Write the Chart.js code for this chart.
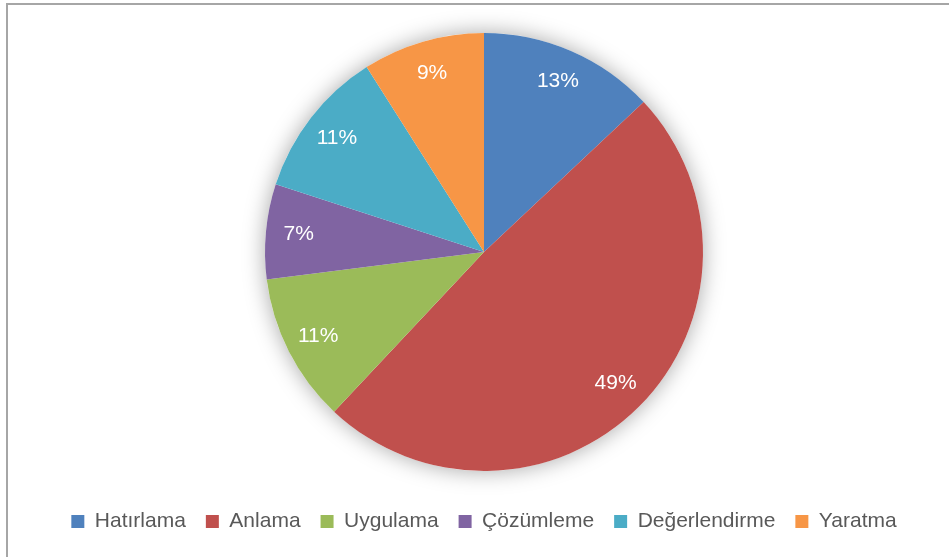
<!DOCTYPE html>
<html>
<head>
<meta charset="utf-8">
<script src="https://cdn.jsdelivr.net/npm/chart.js@4"></script>
<style>
  html, body { margin: 0; padding: 0; background: #fff; }
  #frame {
    position: absolute; left: 6px; top: 3px; width: 960px; height: 570px;
    border-left: 2px solid #a6a6a6; border-top: 2px solid #a6a6a6;
  }
  #wrap { position: absolute; left: 0; top: 0; width: 949px; height: 557px; }
</style>
</head>
<body>
<div id="frame"></div>
<div id="wrap"><canvas id="myChart"></canvas></div>
<script>
  // categories and values (percent)
  var labels = ["Hatırlama", "Anlama", "Uygulama", "Çözümleme", "Değerlendirme", "Yaratma"];
  var values = [13, 49, 11, 7, 11, 9];
  var colors = ["#4F81BD", "#C0504D", "#9BBB59", "#8064A2", "#4BACC6", "#F79646"];

  // soft shadow behind the pie
  var shadowPlugin = {
    id: 'pieShadow',
    beforeDatasetsDraw: function(chart) {
      var arc = chart.getDatasetMeta(0).data[0];
      if (!arc) return;
      var ctx = chart.ctx;
      ctx.save();
      ctx.beginPath();
      ctx.arc(arc.x, arc.y, arc.outerRadius, 0, Math.PI * 2);
      ctx.shadowColor = 'rgba(0,0,0,0.35)';
      ctx.shadowBlur = 22;
      ctx.fillStyle = '#ffffff';
      ctx.fill();
      ctx.restore();
    }
  };

  // percent labels inside the slices
  var labelPlugin = {
    id: 'sliceLabels',
    afterDatasetsDraw: function(chart) {
      var ctx = chart.ctx;
      var meta = chart.getDatasetMeta(0);
      ctx.save();
      ctx.fillStyle = '#ffffff';
      ctx.font = '21px "Liberation Sans", Arial, sans-serif';
      ctx.textAlign = 'center';
      ctx.textBaseline = 'middle';
      meta.data.forEach(function(arc, i) {
        var mid = (arc.startAngle + arc.endAngle) / 2;
        var r = arc.outerRadius * 0.85;
        ctx.fillText(values[i] + '%', arc.x + Math.cos(mid) * r, arc.y + Math.sin(mid) * r);
      });
      ctx.restore();
    }
  };

  var data = {
    labels: labels,
    datasets: [{
      data: values,
      backgroundColor: colors,
      borderWidth: 0,
      radius: 219
    }]
  };

  const config = {
    type: 'pie',
    data,
    plugins: [shadowPlugin, labelPlugin],
    options: {
      responsive: true,
      maintainAspectRatio: false,
      animation: false,
      layout: { padding: { top: 13, bottom: 15, left: 19, right: 0 } },
      plugins: {
        tooltip: { enabled: false },
        legend: {
          position: 'bottom',
          labels: {
            boxWidth: 13,
            boxHeight: 13,
            padding: 20,
            color: '#595959',
            font: { size: 21, family: '"Liberation Sans", Arial, sans-serif' }
          }
        }
      }
    }
  };

  var myChart = new Chart(document.getElementById('myChart'), config);
</script>
</body>
</html>
